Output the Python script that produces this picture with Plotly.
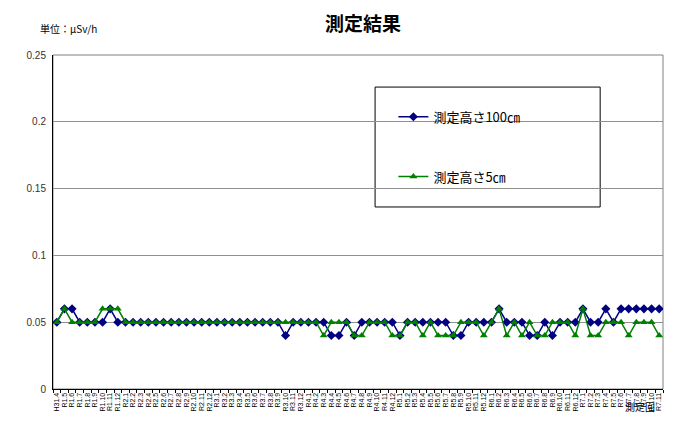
import plotly.graph_objects as go

categories = (["H31.4"] + [f"R1.{m}" for m in range(5, 13)]
              + [f"R{y}.{m}" for y in range(2, 7) for m in range(1, 13)]
              + [f"R7.{m}" for m in range(1, 12)])

h100 = [0.05, 0.06, 0.06, 0.05, 0.05, 0.05, 0.05, 0.06, 0.05,
        0.05, 0.05, 0.05, 0.05, 0.05, 0.05, 0.05, 0.05, 0.05, 0.05, 0.05, 0.05,
        0.05, 0.05, 0.05, 0.05, 0.05, 0.05, 0.05, 0.05, 0.05, 0.04, 0.05, 0.05,
        0.05, 0.05, 0.05, 0.04, 0.04, 0.05, 0.04, 0.05, 0.05, 0.05, 0.05, 0.05,
        0.04, 0.05, 0.05, 0.05, 0.05, 0.05, 0.05, 0.04, 0.04, 0.05, 0.05, 0.05,
        0.05, 0.06, 0.05, 0.05, 0.05, 0.04, 0.04, 0.05, 0.04, 0.05, 0.05, 0.05,
        0.06, 0.05, 0.05, 0.06, 0.05, 0.06, 0.06, 0.06, 0.06, 0.06, 0.06]

h5 = [0.05, 0.06, 0.05, 0.05, 0.05, 0.05, 0.06, 0.06, 0.06,
      0.05, 0.05, 0.05, 0.05, 0.05, 0.05, 0.05, 0.05, 0.05, 0.05, 0.05, 0.05,
      0.05, 0.05, 0.05, 0.05, 0.05, 0.05, 0.05, 0.05, 0.05, 0.05, 0.05, 0.05,
      0.05, 0.05, 0.04, 0.05, 0.05, 0.05, 0.04, 0.04, 0.05, 0.05, 0.05, 0.04,
      0.04, 0.05, 0.05, 0.04, 0.05, 0.04, 0.04, 0.04, 0.05, 0.05, 0.05, 0.04,
      0.05, 0.06, 0.04, 0.05, 0.04, 0.05, 0.04, 0.04, 0.05, 0.05, 0.05, 0.04,
      0.06, 0.04, 0.04, 0.05, 0.05, 0.05, 0.04, 0.05, 0.05, 0.05, 0.04]

series_names = ["測定高さ100㎝", "測定高さ5㎝"]
y_ticks = [0, 0.05, 0.1, 0.15, 0.2, 0.25]
y_tick_labels = ["0", "0.05", "0.1", "0.15", "0.2", "0.25"]

FONT = "Liberation Sans, Arial, Noto Sans CJK JP, sans-serif"
JP = "Noto Sans CJK JP, sans-serif"

fig = go.Figure()
fig.add_trace(go.Scatter(
    x=categories, y=h100, name=series_names[0], mode="lines+markers",
    line=dict(color="#000080", width=1.5),
    marker=dict(symbol="diamond", size=7, color="#000080"),
    legendgroup="a"))
fig.add_trace(go.Scatter(
    x=categories, y=h5, name=series_names[1], mode="lines+markers",
    line=dict(color="#008000", width=1.5),
    marker=dict(symbol="triangle-up", size=7, color="#008000"),
    legendgroup="b"))

fig.update_layout(
    width=682, height=429,
    margin=dict(l=45, r=27, t=47, b=48),
    paper_bgcolor="white", plot_bgcolor="white",
    font=dict(family=FONT, size=10, color="black"),
    showlegend=True,
    legend=dict(x=0.558, y=0.86, xanchor="left", yanchor="top",
                font=dict(family=JP, size=13, color="black"),
                bgcolor="rgba(0,0,0,0)", borderwidth=0,
                tracegroupgap=40, itemwidth=30),
    shapes=[
        dict(type="rect", xref="paper", yref="paper", x0=0, x1=1, y0=0, y1=1,
             line=dict(color="#808080", width=1), layer="below"),
        dict(type="rect", xref="paper", yref="paper", x0=0.528, x1=0.897,
             y0=0.545, y1=0.904, line=dict(color="black", width=1),
             fillcolor="white", layer="below"),
    ],
    annotations=[
        dict(text="<b>測定結果</b>", xref="paper", yref="paper", x=0.508, y=1.0,
             yshift=33, xanchor="center", yanchor="middle", showarrow=False,
             font=dict(family=JP, size=19, color="black")),
        dict(text="単位：μSv/h", xref="paper", yref="paper", x=0.026, y=1.0,
             yshift=27, xanchor="center", yanchor="middle", showarrow=False,
             font=dict(family=JP, size=10, color="black")),
        dict(text="測定回", xref="paper", yref="paper", x=0.963, y=0.0,
             yshift=-17, xanchor="center", yanchor="middle", showarrow=False,
             font=dict(family=JP, size=10, color="black")),
    ],
)

fig.update_xaxes(
    type="category", range=[-0.5, len(categories) - 0.5],
    tickmode="linear", tick0=0, dtick=1,
    showline=True, linecolor="black", linewidth=1,
    ticks="outside", tickson="boundaries", ticklen=3, tickcolor="black",
    tickangle=-90, tickfont=dict(size=7, family=FONT),
    showgrid=False, zeroline=False)

fig.update_yaxes(
    range=[0, 0.25], tickvals=y_ticks, ticktext=y_tick_labels,
    showline=True, linecolor="black", linewidth=1,
    showgrid=True, gridcolor="#909090", gridwidth=1,
    zeroline=False, ticks="", ticklabelstandoff=4,
    tickfont=dict(size=10, family=FONT, color="#333333"))

fig.write_html("out.html")
